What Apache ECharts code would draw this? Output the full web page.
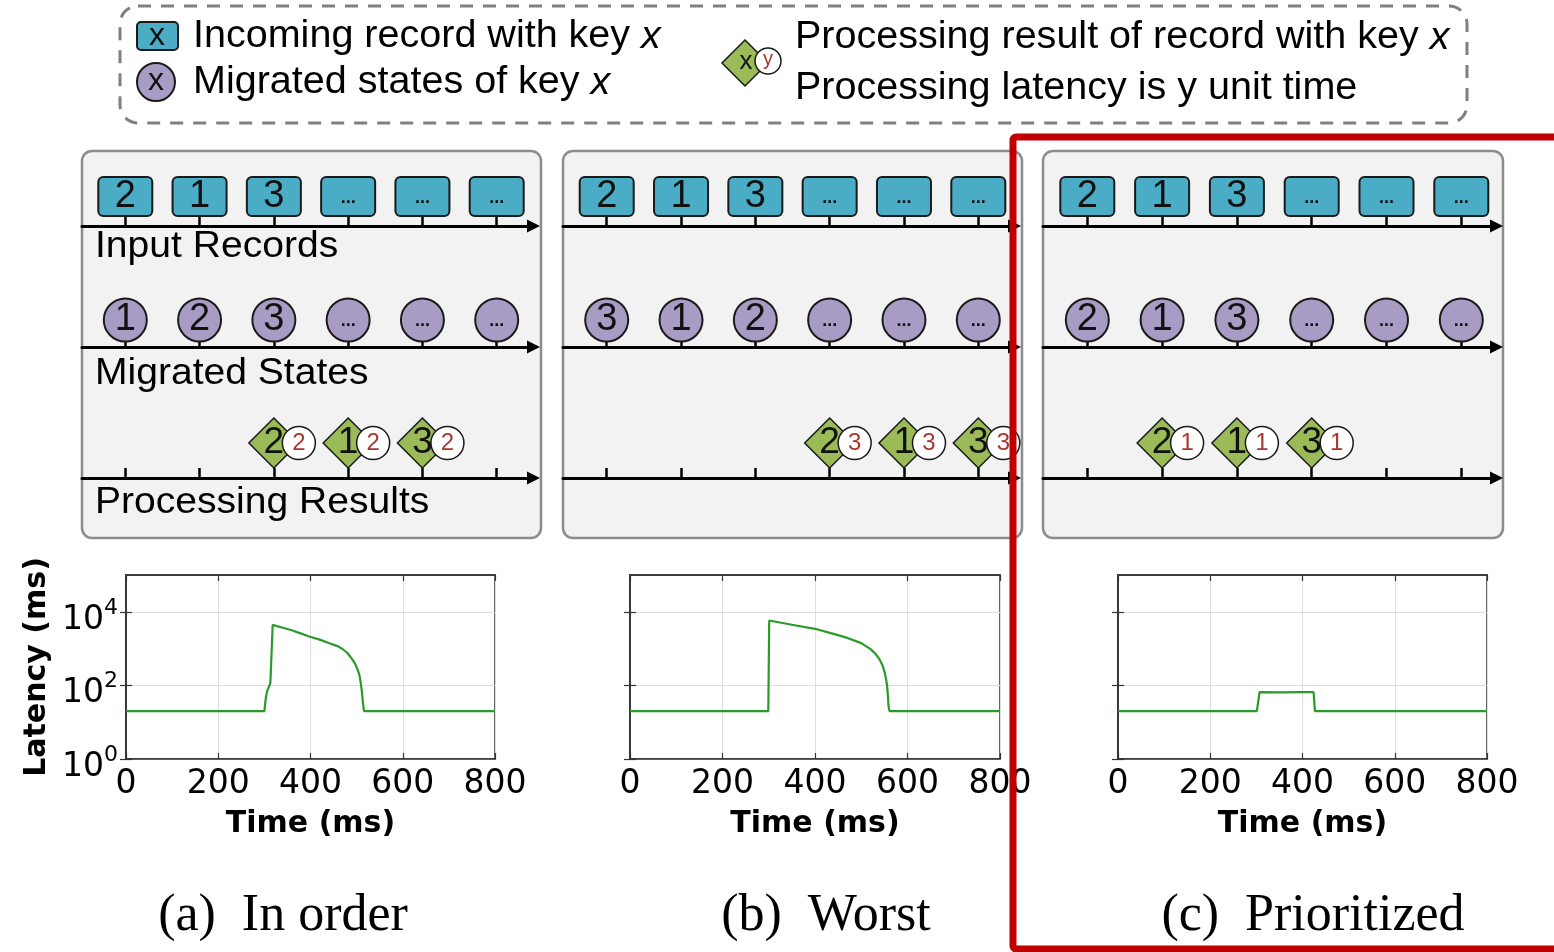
<!DOCTYPE html>
<html><head><meta charset="utf-8">
<script src="https://cdn.jsdelivr.net/npm/echarts@6/dist/echarts.min.js"></script>
<style>html,body{margin:0;padding:0;background:#fff}#c{width:1554px;height:952px}</style>
</head><body><div id="c"></div>
<script>
// ================= DATA =================
const slots = [1, 2, 3, 4, 5, 6];
const captions = ['(a)  In order', '(b)  Worst', '(c)  Prioritized'];
const rowNames = ['Input Records', 'Migrated States', 'Processing Results'];

const recordKeysA = ['2', '1', '3', '...', '...', '...'];
const recordKeysB = ['2', '1', '3', '...', '...', '...'];
const recordKeysC = ['2', '1', '3', '...', '...', '...'];

const stateKeysA = ['1', '2', '3', '...', '...', '...'];
const stateKeysB = ['3', '1', '2', '...', '...', '...'];
const stateKeysC = ['2', '1', '3', '...', '...', '...'];

const resultSlotsA = [3, 4, 5];
const resultSlotsB = [4, 5, 6];
const resultSlotsC = [2, 3, 4];
const resultKeysA = ['2', '1', '3'];
const resultKeysB = ['2', '1', '3'];
const resultKeysC = ['2', '1', '3'];
const resultLatencyA = ['2', '2', '2'];
const resultLatencyB = ['3', '3', '3'];
const resultLatencyC = ['1', '1', '1'];

// latency curves (time ms, latency ms)
const timeA    = [0, 300, 303, 306, 313, 318, 340, 361, 380, 397, 420, 441, 460, 470, 480, 491, 497, 502, 506, 509, 511, 513, 516, 800];
const latencyA = [20, 20, 45, 70, 115, 4400, 3700, 3100, 2550, 2140, 1750, 1400, 1150, 960, 760, 500, 380, 270, 190, 116, 75, 41, 20, 20];
const timeB    = [0, 299, 301, 303, 350, 400, 440, 470, 500, 520, 530, 540, 546, 551, 554, 556, 558, 559, 561, 800];
const latencyB = [20, 20, 5800, 6000, 4450, 3450, 2510, 1950, 1410, 970, 740, 500, 350, 215, 140, 94, 45, 27, 20, 20];
const timeC    = [0, 301, 307, 350, 400, 424, 427, 800];
const latencyC = [20, 20, 66, 65, 66, 66, 20, 20];

const xTickValues = [0, 200, 400, 600, 800];
const yTickValues = [1, 100, 10000];

// ================= STYLE / LAYOUT =================
const TEAL = '#4bacc6', PURPLE = '#a99cc4', GREEN = '#9bbb59', EDGE = '#1a1a1a';
const LAT_RED = '#a8382f', LINE_GREEN = '#2a9a2a';
const SANS = 'Liberation Sans', MPL = 'DejaVu Sans', SERIF = 'Liberation Serif';

const panels = [
  { left: 82, right: 541, tip: 540, c1: 125.3, c6: 496.7 },
  { left: 563, right: 1022, tip: 1021, c1: 606.7, c6: 978.3 },
  { left: 1043, right: 1503, tip: 1503, c1: 1087.3, c6: 1461.3 }
];
const rowAxisY = [226, 347, 478];
const chartGrids = [
  { left: 126, width: 369 }, { left: 630, width: 370 }, { left: 1118, width: 369 }
];
const captionX = [283, 826, 1313];

const recordKeys = [recordKeysA, recordKeysB, recordKeysC];
const stateKeys = [stateKeysA, stateKeysB, stateKeysC];
const resultSlots = [resultSlotsA, resultSlotsB, resultSlotsC];
const resultKeys = [resultKeysA, resultKeysB, resultKeysC];
const resultLat = [resultLatencyA, resultLatencyB, resultLatencyC];
const times = [timeA, timeB, timeC];
const lats = [latencyA, latencyB, latencyC];

function keyText(x, y, key, size) {
  const dots = key === '...';
  return { type: 'text', z2: 5, style: { text: key, x: x, y: dots ? y + 1 : y, align: 'center', verticalAlign: 'middle',
    fontFamily: SANS, fontSize: dots ? 18 : size, fontWeight: dots ? 'bold' : 'normal', fill: '#111' } };
}
function recordRender(keys) {
  return function (params, api) {
    const p = api.coord([api.value(0), 0]); const x = p[0], y = p[1];
    return { type: 'group', children: [
      { type: 'rect', shape: { x: x - 27, y: y - 49, width: 54, height: 39, r: 5 }, style: { fill: TEAL, stroke: EDGE, lineWidth: 2 } },
      keyText(x, y - 29, keys[params.dataIndex], 38)
    ] };
  };
}
function stateRender(keys) {
  return function (params, api) {
    const p = api.coord([api.value(0), 0]); const x = p[0], y = p[1];
    return { type: 'group', children: [
      { type: 'circle', shape: { cx: x, cy: y - 27, r: 21.5 }, style: { fill: PURPLE, stroke: EDGE, lineWidth: 2 } },
      keyText(x, y - 27, keys[params.dataIndex], 38)
    ] };
  };
}
function resultRender(keys, latv) {
  return function (params, api) {
    const p = api.coord([api.value(0), 0]); const x = p[0], y = p[1];
    const cy = y - 35, h = 25;
    return { type: 'group', children: [
      { type: 'polygon', shape: { points: [[x, cy - h], [x + h, cy], [x, cy + h], [x - h, cy]] }, style: { fill: GREEN, stroke: EDGE, lineWidth: 1.5 } },
      keyText(x, cy, keys[params.dataIndex], 37),
      { type: 'circle', z2: 6, shape: { cx: x + 25, cy: cy, r: 16.5 }, style: { fill: '#fff', stroke: EDGE, lineWidth: 1.5 } },
      { type: 'text', z2: 7, style: { text: latv[params.dataIndex], x: x + 25, y: cy, align: 'center', verticalAlign: 'middle', fontFamily: SANS, fontSize: 24, fill: LAT_RED } }
    ] };
  };
}

const grid = [], xAxis = [], yAxis = [], series = [];
// diagram rows
panels.forEach((P, pi) => {
  const gRight = P.tip - 6.5;
  const s = (P.c6 - P.c1) / 5;
  const xmin = 1 - (P.c1 - P.left) / s;
  const xmax = 6 + (gRight - P.c6) / s;
  rowAxisY.forEach((ay, ri) => {
    const gi = grid.length;
    grid.push({ left: P.left, width: gRight - P.left, top: ay - 60, height: 60, containLabel: false });
    xAxis.push({ gridIndex: gi, type: 'value', min: xmin, max: xmax,
      axisLine: { show: true, symbol: ['none', 'triangle'], symbolSize: [13, 13], lineStyle: { color: '#000', width: 3 } },
      axisTick: { show: true, inside: true, length: 10, customValues: slots, lineStyle: { color: '#000', width: 2.5 } },
      axisLabel: { show: false }, splitLine: { show: false } });
    yAxis.push({ gridIndex: gi, type: 'value', min: 0, max: 1, show: false });
    let data, render;
    if (ri === 0) { data = slots.map(v => [v, 0]); render = recordRender(recordKeys[pi]); }
    else if (ri === 1) { data = slots.map(v => [v, 0]); render = stateRender(stateKeys[pi]); }
    else { data = resultSlots[pi].map(v => [v, 0]); render = resultRender(resultKeys[pi], resultLat[pi]); }
    series.push({ type: 'custom', xAxisIndex: gi, yAxisIndex: gi, data: data, renderItem: render, silent: true, z: 5 });
  });
});

// latency charts
const supRich = {
  b: { fontFamily: MPL, fontSize: 33, color: '#000', lineHeight: 40, verticalAlign: 'bottom' },
  s: { fontFamily: MPL, fontSize: 22, color: '#000', lineHeight: 40, verticalAlign: 'top' }
};
chartGrids.forEach((C, ci) => {
  const gi = grid.length;
  grid.push({ left: C.left, width: C.width, top: 575, height: 184, show: true, backgroundColor: '#fff', borderColor: '#333', borderWidth: 1.5 });
  const tickStyle = { color: '#333', width: 1.2 };
  xAxis.push({ gridIndex: gi, type: 'value', min: 0, max: 800, interval: 200,
    axisLine: { show: true, lineStyle: { color: '#333', width: 1.5 } },
    axisTick: { show: true, inside: true, length: 6, lineStyle: tickStyle },
    axisLabel: { fontFamily: MPL, fontSize: 33, color: '#000', margin: 9 },
    splitLine: { show: true, lineStyle: { color: '#dedede', width: 1 } },
    name: 'Time (ms)', nameLocation: 'middle', nameGap: 50,
    nameTextStyle: { fontFamily: MPL, fontWeight: 'bold', fontSize: 30, color: '#000' } });
  xAxis.push({ gridIndex: gi, type: 'value', position: 'top', min: 0, max: 800, interval: 200,
    axisLine: { show: true, lineStyle: { color: '#333', width: 1.5 } },
    axisTick: { show: true, inside: true, length: 6, lineStyle: tickStyle },
    axisLabel: { show: false }, splitLine: { show: false } });
  yAxis.push({ gridIndex: gi, type: 'log', logBase: 10, min: 1, max: 100000,
    axisLine: { show: true, lineStyle: { color: '#333', width: 1.5 } },
    axisTick: { show: true, inside: true, length: 6, customValues: yTickValues, lineStyle: tickStyle },
    axisLabel: { show: ci === 0, customValues: yTickValues, margin: 8, padding: [10, 0, 0, 0],
      formatter: v => '{b|10}{s|' + Math.round(Math.log10(v)) + '}', rich: supRich },
    splitLine: { show: true, lineStyle: { color: '#dedede', width: 1 } },
    name: ci === 0 ? 'Latency (ms)' : '', nameLocation: 'middle', nameGap: 74, nameRotate: 90,
    nameTextStyle: { fontFamily: MPL, fontWeight: 'bold', fontSize: 30, color: '#000' } });
  yAxis.push({ gridIndex: gi, type: 'log', logBase: 10, min: 1, max: 100000, position: 'right',
    axisLine: { show: true, lineStyle: { color: '#333', width: 1.5 } },
    axisTick: { show: true, inside: true, length: 6, customValues: yTickValues, lineStyle: tickStyle },
    axisLabel: { show: false }, splitLine: { show: false } });
  const xi = xAxis.length - 2, yi = yAxis.length - 2;
  series.push({ type: 'line', xAxisIndex: xi, yAxisIndex: yi, showSymbol: false, symbol: 'none', silent: true,
    data: times[ci].map((t, k) => [t, lats[ci][k]]),
    lineStyle: { color: LINE_GREEN, width: 2.2 }, z: 3 });
});

// ================= GRAPHICS (panel frames, labels, legend, captions) =================
const graphics = [];
panels.forEach(P => {
  graphics.push({ type: 'rect', z: -10, shape: { x: P.left, y: 151, width: P.right - P.left, height: 387, r: 10 },
    style: { fill: '#f2f2f2', stroke: '#8c8c8c', lineWidth: 2.5 } });
});
const rowLabelY = [247, 374, 503];
rowNames.forEach((n, i) => {
  graphics.push({ type: 'text', z: 10, x: 95, y: rowLabelY[i], scaleX: 1.085,
    style: { text: n, x: 0, y: 0, verticalAlign: 'middle', fontFamily: SANS, fontSize: 36, fill: '#000' } });
});
captions.forEach((c, i) => {
  graphics.push({ type: 'text', z: 10, x: captionX[i], y: 916,
    style: { text: c, x: 0, y: 0, align: 'center', verticalAlign: 'middle', fontFamily: SERIF, fontSize: 52, fill: '#000' } });
});
// legend
const legRich = { n: { fontFamily: SANS, fontSize: 38, fill: '#000' }, i: { fontFamily: SANS, fontSize: 38, fontStyle: 'italic', fill: '#000' } };
graphics.push({ type: 'rect', z: 10, shape: { x: 120, y: 6, width: 1347, height: 117, r: 18 },
  style: { fill: 'none', stroke: '#808080', lineWidth: 3, lineDash: [13, 10] } });
graphics.push({ type: 'rect', z: 10, shape: { x: 137, y: 22, width: 41, height: 28, r: 4 }, style: { fill: TEAL, stroke: EDGE, lineWidth: 2 } });
graphics.push({ type: 'text', z: 11, style: { text: 'x', x: 157, y: 36, align: 'center', verticalAlign: 'middle', fontFamily: SANS, fontSize: 32, fill: '#111' } });
graphics.push({ type: 'circle', z: 10, shape: { cx: 156, cy: 82, r: 19 }, style: { fill: PURPLE, stroke: EDGE, lineWidth: 2 } });
graphics.push({ type: 'text', z: 11, style: { text: 'x', x: 156, y: 81, align: 'center', verticalAlign: 'middle', fontFamily: SANS, fontSize: 32, fill: '#111' } });
graphics.push({ type: 'polygon', z: 10, shape: { points: [[745, 40], [768, 63], [745, 86], [722, 63]] }, style: { fill: GREEN, stroke: EDGE, lineWidth: 1.5 } });
graphics.push({ type: 'text', z: 11, style: { text: 'x', x: 746, y: 62, align: 'center', verticalAlign: 'middle', fontFamily: SANS, fontSize: 26, fill: '#111' } });
graphics.push({ type: 'circle', z: 11, shape: { cx: 768, cy: 61, r: 13 }, style: { fill: '#fff', stroke: EDGE, lineWidth: 1.5 } });
graphics.push({ type: 'text', z: 12, style: { text: 'y', x: 768, y: 59, align: 'center', verticalAlign: 'middle', fontFamily: SANS, fontSize: 20, fill: LAT_RED } });
const legendTexts = [
  { t: '{n|Incoming record with key }{i|x}', x: 193, y: 37 },
  { t: '{n|Migrated states of key }{i|x}', x: 193, y: 83 },
  { t: '{n|Processing result of record with key }{i|x}', x: 795, y: 38 },
  { t: '{n|Processing latency is y unit time}', x: 795, y: 89 }
];
legendTexts.forEach(L => {
  graphics.push({ type: 'text', z: 11, x: L.x, y: L.y, scaleX: 1.04,
    style: { text: L.t, x: 0, y: 0, verticalAlign: 'middle', rich: legRich, fontFamily: SANS, fontSize: 38, fill: '#000' } });
});
// red highlight frame
graphics.push({ type: 'rect', z: 100, shape: { x: 1013, y: 137, width: 570, height: 812, r: 3 },
  style: { fill: 'none', stroke: '#c00000', lineWidth: 7 } });

const chart = echarts.init(document.getElementById('c'), null, { renderer: 'canvas' });
chart.setOption({
  animation: false,
  backgroundColor: '#fff',
  grid: grid, xAxis: xAxis, yAxis: yAxis, series: series,
  graphic: { elements: graphics }
});
</script></body></html>
